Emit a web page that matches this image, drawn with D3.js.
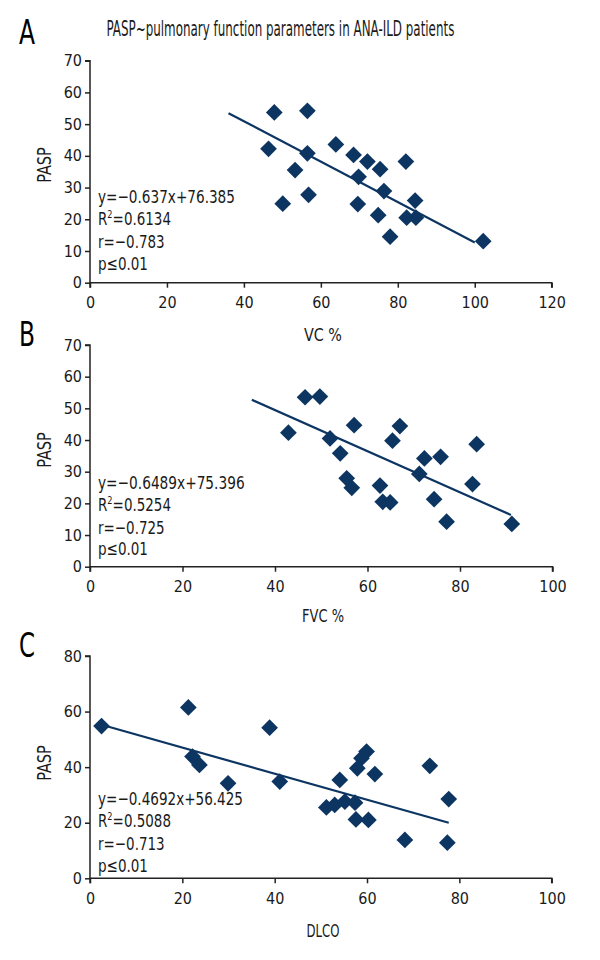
<!DOCTYPE html>
<html><head><meta charset="utf-8">
<script src="https://cdnjs.cloudflare.com/ajax/libs/d3/7.8.5/d3.min.js"></script>
<style>
body{margin:0;background:#fff;}
text{font-family:"DejaVu Sans Condensed","Liberation Sans Narrow",sans-serif;fill:#1a1a1a;}
</style></head>
<body><svg id="c" width="600" height="960"></svg>
<script>
const title = "PASP~pulmonary function parameters in ANA-ILD patients";
const panelLabels = ["A","B","C"];
const xLabels = ["VC %","FVC %","DLCO"];
const yLabel = "PASP";

const vcX   = [47.9,46.4,53.3,50.1,56.5,63.9,56.5,56.8,68.5,72.1,75.4,69.8,82.1,76.4,69.6,84.5,74.9,82.3,84.7,78.0,102.2];
const vcY   = [53.7,42.2,35.5,24.9,54.2,43.6,40.8,27.7,40.3,38.2,35.8,33.4,38.2,28.9,24.8,25.9,21.3,20.5,20.5,14.5,13.1];
const fvcX  = [46.5,49.7,42.9,57.1,51.9,54.1,67.0,65.4,55.5,56.6,72.3,75.8,83.6,71.2,62.7,63.3,64.9,82.7,74.4,77.1,91.2];
const fvcY  = [53.5,53.7,42.3,44.7,40.5,35.8,44.4,39.8,27.9,24.9,34.2,34.7,38.7,29.3,25.6,20.5,20.3,26.1,21.3,14.2,13.5];
const dlcoX = [2.5,21.3,22.2,23.7,29.9,38.9,41.1,54.1,59.9,58.8,57.9,61.7,73.6,77.7,51.2,53.0,55.2,57.4,57.6,60.3,68.2,77.4];
const dlcoY = [54.8,61.5,43.8,40.8,34.2,54.2,34.8,35.4,45.6,43.2,39.6,37.5,40.5,28.5,25.5,26.4,27.6,27.2,21.2,21.0,13.8,12.8];

const slopes = [-0.637,-0.6489,-0.4692];
const intercepts = [76.385,75.396,56.425];
const fitRange = [[36,100],[35,91],[2.5,77.7]];
const eqTexts = ["y=\u22120.637x+76.385","y=\u22120.6489x+75.396","y=\u22120.4692x+56.425"];
const r2Texts = ["0.6134","0.5254","0.5088"];
const rTexts = ["r=\u22120.783","r=\u22120.725","r=\u22120.713"];
const pText = "p\u22640.01";

const xDomains = [[0,120],[0,100],[0,100]];
const yDomains = [[0,70],[0,70],[0,80]];
const xTickVals = [[0,20,40,60,80,100,120],[0,20,40,60,80,100],[0,20,40,60,80,100]];
const yTickVals = [[0,10,20,30,40,50,60,70],[0,10,20,30,40,50,60,70],[0,20,40,60,80]];

const color = "#0c3562";
const svg = d3.select("#c");

// horizontally compress a text to a target width (condensed look)
function fit(t, w){
  const n = t.node().getComputedTextLength();
  const x = +t.attr("x"), y = +t.attr("y");
  t.attr("x",0).attr("y",0).attr("transform",`translate(${x},${y}) scale(${w/n},1)`);
  return t;
}

const layout = [
  {x0:90,x1:551.7,y0:282.7,y1:60.7, lab:[27,44], xl:[323,340.5], yl:165, ann:[203,225,248,270],
   w:[137,73,66.7,50], xw:38},
  {x0:90,x1:552.5,y0:566.7,y1:345, lab:[27,346], xl:[323,622], yl:450, ann:[489,511,533.5,555],
   w:[146.7,73,66.7,50], xw:42},
  {x0:90,x1:551.7,y0:878.3,y1:656, lab:[27,657], xl:[323,937], yl:763, ann:[805,827,849.5,872],
   w:[145,73,66.7,50], xw:33}
];
const datasets = [[vcX,vcY],[fvcX,fvcY],[dlcoX,dlcoY]];

fit(svg.append("text").attr("x",106.5).attr("y",35.5).attr("font-size",20.5).text(title), 348);

layout.forEach((L,i)=>{
  const x = d3.scaleLinear().domain(xDomains[i]).range([L.x0,L.x1]);
  const y = d3.scaleLinear().domain(yDomains[i]).range([L.y0,L.y1]);
  const g = svg.append("g");

  fit(g.append("text").attr("x",19).attr("y",L.lab[1]).attr("font-size",34)
    .style("fill","#000").text(panelLabels[i]), 16);

  const xa = g.append("g").attr("transform",`translate(0,${L.y0})`)
    .call(d3.axisBottom(x).tickValues(xTickVals[i]).tickSize(5).tickPadding(9).tickFormat(d3.format("d")));
  const ya = g.append("g").attr("transform",`translate(${L.x0},0)`)
    .call(d3.axisLeft(y).tickValues(yTickVals[i]).tickSize(5).tickPadding(3).tickFormat(d3.format("d")));
  [xa,ya].forEach(a=>{
    a.selectAll("path").attr("stroke","#222").attr("stroke-width",1.5);
    a.selectAll("line").attr("stroke","#222").attr("stroke-width",1.5);
    a.selectAll("text").attr("font-size",16).style("fill","#1a1a1a")
      .attr("font-family",'"DejaVu Sans Condensed",sans-serif');
  });
  ya.select(".domain").attr("d",`M-5,${L.y1}H0V${L.y0}`);
  xa.select(".domain").attr("d",`M${L.x0},5V0H${L.x1}V5`);

  fit(g.append("text").attr("x",L.xl[0]).attr("y",L.xl[1]).attr("font-size",18)
    .attr("text-anchor","middle").text(xLabels[i]), L.xw);
  g.append("text").attr("transform",`translate(51,${L.yl}) rotate(-90) scale(0.85,1)`).attr("font-size",19)
    .attr("text-anchor","middle").text(yLabel);

  const [fx0,fx1] = fitRange[i];
  g.append("line")
    .attr("x1",x(fx0)).attr("y1",y(slopes[i]*fx0+intercepts[i]))
    .attr("x2",x(fx1)).attr("y2",y(slopes[i]*fx1+intercepts[i]))
    .attr("stroke",color).attr("stroke-width",2.2);

  const [xs,ys] = datasets[i];
  const sym = d3.symbol().type(d3.symbolSquare).size(140);
  g.selectAll("path.pt").data(xs.map((v,k)=>[v,ys[k]])).join("path").attr("class","pt")
    .attr("d",sym).attr("fill",color)
    .attr("transform",d=>`translate(${x(d[0])},${y(d[1])}) rotate(45)`);

  const fs = 18;
  fit(g.append("text").attr("x",98).attr("y",L.ann[0]).attr("font-size",fs).text(eqTexts[i]), L.w[0]);
  const t2 = g.append("text").attr("x",98).attr("y",L.ann[1]).attr("font-size",fs);
  t2.append("tspan").text("R");
  t2.append("tspan").attr("font-size",11).attr("dy",-7).text("2");
  t2.append("tspan").attr("dy",7).text("="+r2Texts[i]);
  fit(t2, L.w[1]);
  fit(g.append("text").attr("x",98).attr("y",L.ann[2]).attr("font-size",fs).text(rTexts[i]), L.w[2]);
  fit(g.append("text").attr("x",98).attr("y",L.ann[3]).attr("font-size",fs).text(pText), L.w[3]);
});
</script></body></html>
